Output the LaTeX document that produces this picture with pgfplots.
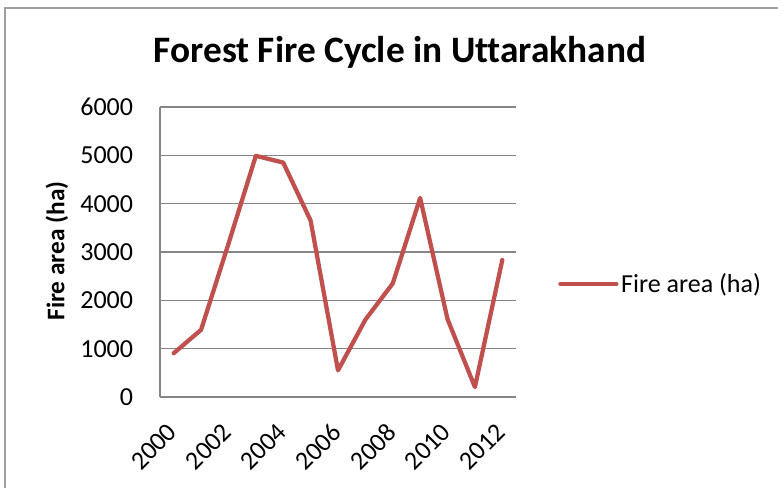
\documentclass[border=0pt]{standalone}
\usepackage{pgfplots}
\pgfplotsset{compat=1.18}
\usepackage{fontspec}
\setmainfont[Ligatures=NoCommon]{Carlito}
\definecolor{exred}{RGB}{192,80,77}
\definecolor{gridgray}{RGB}{134,134,134}
\begin{document}
\begin{tikzpicture}
\useasboundingbox (0pt,0pt) rectangle (583.5pt,365.25pt);
\draw[gridgray!80, line width=1pt] (3.75pt,-10pt) -- (3.75pt,359.25pt) -- (600pt,359.25pt);
\node[font=\fontsize{28}{32}\selectfont\bfseries, anchor=base] at (300pt,318.75pt) {Forest Fire Cycle in Uttarakhand};
\node[font=\fontsize{19}{22}\selectfont\bfseries, rotate=90] at (42.75pt,177pt) {Fire area (ha)};
\begin{axis}[
  at={(120pt,67.5pt)}, anchor=south west,
  scale only axis, width=267pt, height=217.5pt,
  xmin=1999.5, xmax=2012.5, ymin=0, ymax=6000,
  xtick={2000,2002,...,2012}, ytick={0,1000,...,6000},
  xticklabels={2000,2002,2004,2006,2008,2010,2012},
  /pgf/number format/assume math mode=true,
  /pgf/number format/1000 sep={},
  ymajorgrids, grid style={gridgray, line width=0.9pt},
  axis x line*=bottom, axis y line*=left,
  axis line style={gridgray, line width=0.9pt, -},
  major tick length=0pt,
  tick label style={font=\fontsize{19.5}{22}\selectfont},
  xticklabel style={xshift=-5.5pt, yshift=-18.5pt, rotate=45, anchor=north east, inner sep=0pt},
  yticklabel style={anchor=east, inner sep=0pt, xshift=-20pt},
  xtick style={draw=none}, ytick style={draw=none},
  legend style={at={(1.118,0.39)}, anchor=west, draw=none, fill=none,
    font=\fontsize{19.5}{22}\selectfont, inner sep=0pt, cells={anchor=west}},
  legend image code/.code={\draw[#1, line width=3.2pt] (0pt,0pt) -- (42pt,0pt);},
]
\addplot[exred, line width=3.2pt, line join=round, line cap=round] coordinates {
(2000,906) (2001,1390) (2002,3170) (2003,4990) (2004,4850) (2005,3650)
(2006,550) (2007,1600) (2008,2350) (2009,4120) (2010,1610) (2011,205) (2012,2835)};
\addlegendentry{Fire area (ha)}
\end{axis}
\end{tikzpicture}
\end{document}
